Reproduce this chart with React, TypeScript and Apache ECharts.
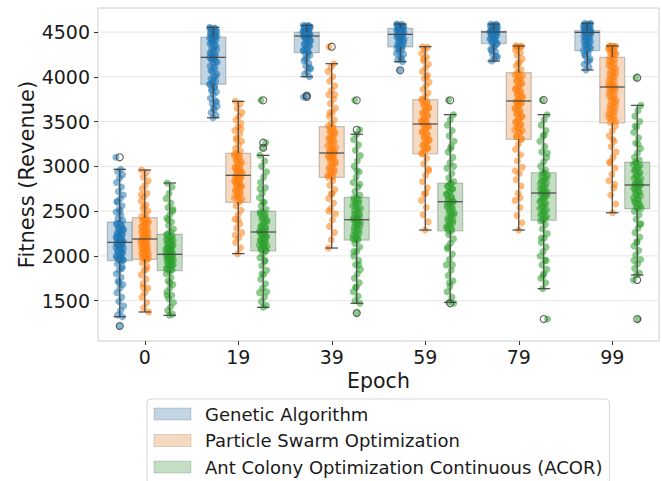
import React, { useEffect, useRef } from 'react';
import * as echarts from 'echarts';

const epochs = ['0', '19', '39', '59', '79', '99'];
const algorithms = [
  'Genetic Algorithm',
  'Particle Swarm Optimization',
  'Ant Colony Optimization Continuous (ACOR)',
];
const pointColors = ['#1f77b4', '#ff7f0e', '#2ca02c'];
const boxFills = ['#c1d5e3', '#f6d9c0', '#c4dec4'];
const yTicks = [1500, 2000, 2500, 3000, 3500, 4000, 4500];

// [lower whisker, Q1, median, Q3, upper whisker] per epoch
const gaBoxes = [
  [1321, 1947, 2152, 2378, 2967],
  [3543, 3916, 4217, 4444, 4552],
  [4001, 4269, 4455, 4496, 4575],
  [4169, 4333, 4474, 4541, 4589],
  [4176, 4369, 4500, 4511, 4589],
  [4076, 4291, 4496, 4515, 4597],
];
const psoBoxes = [
  [1374, 1962, 2189, 2427, 2959],
  [2025, 2598, 2900, 3145, 3726],
  [2088, 2878, 3149, 3443, 4146],
  [2289, 3138, 3473, 3744, 4336],
  [2289, 3302, 3730, 4046, 4344],
  [2482, 3484, 3886, 4217, 4344],
];
const acoBoxes = [
  [1337, 1835, 2018, 2241, 2814],
  [1426, 2055, 2267, 2498, 3123],
  [1471, 2177, 2404, 2654, 3358],
  [1482, 2278, 2605, 2814, 3577],
  [1634, 2397, 2702, 2929, 3577],
  [1787, 2527, 2792, 3048, 3681],
];

// outliers: [epoch index, value]
const gaOutliers = [[0, 3101], [0, 1217], [2, 3790], [2, 3774], [3, 4072]];
const psoOutliers = [[2, 4336]];
const acoOutliers = [
  [1, 3737], [1, 3264], [1, 3208],
  [2, 3737], [2, 3409], [2, 1362],
  [3, 3737], [3, 1471],
  [4, 3741], [4, 1295],
  [5, 3990], [5, 1731], [5, 1295],
];

// individual fitness values per epoch
const gaPoints = [
  [3101, 2967, 2940, 2905, 2870, 2820, 2770, 2720, 2680, 2640, 2600, 2560, 2520, 2490, 2450, 2420, 2395, 2370, 2350, 2330, 2310, 2290, 2270, 2250, 2235, 2220, 2200, 2185, 2170, 2160, 2152, 2140, 2125, 2110, 2095, 2080, 2060, 2040, 2020, 2000, 1985, 1970, 1955, 1940, 1910, 1880, 1840, 1800, 1760, 1720, 1680, 1640, 1590, 1540, 1490, 1440, 1390, 1340, 1321, 1217,
    2365, 2340, 2315, 2295, 2275, 2255, 2240, 2228, 2212, 2195, 2178, 2166, 2148, 2133, 2118, 2102, 2088, 2070, 2052, 2033, 2012, 1992, 1978, 1962, 1950, 2500, 2610, 1860, 1700],
  [4552, 4545, 4530, 4520, 4505, 4490, 4475, 4460, 4450, 4440, 4425, 4410, 4390, 4370, 4350, 4320, 4300, 4280, 4260, 4240, 4225, 4217, 4205, 4190, 4170, 4150, 4120, 4090, 4060, 4030, 4000, 3980, 3950, 3930, 3915, 3890, 3860, 3830, 3800, 3760, 3730, 3700, 3670, 3630, 3600, 3570, 3543,
    4540, 4535, 4515, 4498, 4480, 4468, 4455, 4445, 4432, 4400, 4380, 4340, 4310, 4270, 4230, 4200, 4160, 4110, 4070, 4010, 3960, 3920, 3880, 3840, 3720, 3650],
  [4575, 4570, 4560, 4550, 4540, 4530, 4520, 4510, 4500, 4495, 4485, 4475, 4465, 4455, 4445, 4430, 4410, 4390, 4370, 4350, 4330, 4300, 4280, 4265, 4240, 4210, 4180, 4150, 4120, 4090, 4060, 4030, 4001, 3790, 3774,
    4572, 4565, 4555, 4545, 4535, 4525, 4515, 4505, 4490, 4480, 4470, 4460, 4450, 4440, 4420, 4400, 4380, 4360, 4340, 4310, 4290, 4270, 4200, 4100],
  [4589, 4585, 4575, 4565, 4555, 4545, 4535, 4525, 4515, 4505, 4495, 4485, 4474, 4465, 4450, 4435, 4420, 4400, 4380, 4360, 4340, 4320, 4300, 4280, 4250, 4220, 4190, 4169, 4072,
    4580, 4570, 4560, 4550, 4540, 4530, 4520, 4510, 4500, 4490, 4480, 4470, 4460, 4445, 4430, 4410, 4390, 4370, 4350, 4335, 4310, 4260, 4200],
  [4589, 4580, 4570, 4560, 4550, 4540, 4530, 4520, 4510, 4505, 4500, 4495, 4485, 4470, 4455, 4440, 4420, 4400, 4380, 4365, 4340, 4310, 4280, 4250, 4220, 4195, 4176,
    4585, 4575, 4565, 4555, 4545, 4535, 4525, 4515, 4508, 4502, 4498, 4490, 4480, 4465, 4450, 4430, 4410, 4390, 4375, 4330, 4290, 4230],
  [4597, 4590, 4580, 4570, 4560, 4550, 4540, 4530, 4520, 4512, 4505, 4500, 4496, 4490, 4480, 4465, 4450, 4430, 4410, 4390, 4370, 4350, 4330, 4310, 4290, 4260, 4230, 4200, 4170, 4140, 4110, 4076,
    4595, 4585, 4575, 4565, 4555, 4545, 4535, 4525, 4515, 4508, 4502, 4498, 4494, 4485, 4470, 4455, 4440, 4420, 4400, 4380, 4355, 4320, 4295, 4250, 4180],
];
const psoPoints = [
  [2959, 2930, 2880, 2840, 2790, 2750, 2700, 2660, 2610, 2570, 2530, 2500, 2470, 2440, 2420, 2400, 2380, 2355, 2335, 2310, 2290, 2270, 2250, 2230, 2210, 2195, 2180, 2165, 2150, 2130, 2110, 2090, 2070, 2050, 2030, 2010, 1990, 1970, 1950, 1920, 1880, 1840, 1790, 1740, 1690, 1640, 1590, 1540, 1480, 1420, 1374,
    2415, 2392, 2370, 2345, 2322, 2300, 2280, 2262, 2240, 2220, 2203, 2188, 2172, 2158, 2140, 2120, 2100, 2080, 2060, 2040, 2020, 2000, 1982, 1966, 2550, 2680, 1850, 1650],
  [3726, 3700, 3650, 3600, 3560, 3520, 3480, 3440, 3400, 3360, 3320, 3280, 3240, 3200, 3170, 3145, 3120, 3090, 3060, 3030, 3000, 2980, 2960, 2940, 2920, 2900, 2885, 2870, 2850, 2830, 2810, 2790, 2770, 2750, 2720, 2690, 2660, 2630, 2600, 2560, 2510, 2460, 2410, 2360, 2310, 2260, 2200, 2150, 2090, 2025,
    3140, 3110, 3080, 3050, 3020, 2990, 2970, 2950, 2930, 2910, 2895, 2878, 2860, 2840, 2820, 2800, 2780, 2760, 2740, 2710, 2680, 2650, 2620, 3300, 3420, 2400, 2230],
  [4336, 4146, 4110, 4060, 4000, 3950, 3900, 3850, 3800, 3750, 3700, 3650, 3600, 3560, 3520, 3480, 3450, 3420, 3390, 3360, 3330, 3300, 3270, 3240, 3210, 3180, 3160, 3149, 3130, 3110, 3090, 3060, 3030, 3000, 2970, 2940, 2910, 2880, 2840, 2790, 2740, 2690, 2640, 2590, 2530, 2470, 2400, 2330, 2260, 2180, 2088,
    3440, 3410, 3380, 3350, 3320, 3290, 3260, 3230, 3200, 3170, 3155, 3140, 3120, 3100, 3080, 3050, 3020, 2990, 2960, 2930, 2900, 2885, 3600, 3800, 2700, 2500],
  [4336, 4330, 4300, 4260, 4220, 4180, 4140, 4100, 4060, 4020, 3980, 3940, 3900, 3860, 3820, 3780, 3750, 3720, 3690, 3660, 3630, 3600, 3570, 3540, 3510, 3490, 3473, 3450, 3420, 3390, 3360, 3330, 3300, 3270, 3240, 3210, 3180, 3140, 3090, 3030, 2970, 2900, 2830, 2760, 2690, 2620, 2540, 2460, 2380, 2289,
    3740, 3710, 3680, 3650, 3620, 3590, 3560, 3530, 3500, 3480, 3460, 3440, 3410, 3380, 3350, 3320, 3290, 3260, 3230, 3200, 3170, 3145, 4000, 4200, 2950, 2700],
  [4344, 4340, 4330, 4300, 4270, 4240, 4200, 4160, 4120, 4080, 4050, 4020, 3990, 3960, 3930, 3900, 3870, 3840, 3810, 3780, 3750, 3730, 3710, 3680, 3650, 3620, 3590, 3560, 3530, 3500, 3470, 3440, 3410, 3380, 3340, 3300, 3250, 3190, 3130, 3060, 2990, 2920, 2850, 2780, 2700, 2620, 2540, 2450, 2370, 2289,
    4340, 4335, 4040, 4010, 3980, 3950, 3920, 3890, 3860, 3830, 3800, 3770, 3740, 3720, 3700, 3670, 3640, 3610, 3580, 3550, 3520, 3490, 3460, 3430, 3400, 3370, 3330, 3310, 4150, 2950, 2650],
  [4344, 4340, 4335, 4320, 4300, 4280, 4260, 4240, 4215, 4190, 4160, 4130, 4100, 4070, 4040, 4010, 3980, 3950, 3920, 3900, 3886, 3870, 3850, 3820, 3790, 3760, 3730, 3700, 3670, 3640, 3610, 3580, 3550, 3520, 3490, 3450, 3400, 3340, 3280, 3220, 3160, 3100, 3040, 2980, 2910, 2840, 2760, 2680, 2580, 2482,
    4342, 4338, 4330, 4310, 4290, 4270, 4250, 4210, 4180, 4150, 4120, 4090, 4060, 4030, 4000, 3970, 3940, 3910, 3890, 3880, 3860, 3830, 3800, 3770, 3740, 3710, 3680, 3650, 3620, 3590, 3560, 3530, 3500, 3300, 3050, 2800],
];
const acoPoints = [
  [2814, 2770, 2700, 2640, 2590, 2540, 2500, 2460, 2420, 2380, 2340, 2300, 2270, 2245, 2225, 2200, 2180, 2160, 2140, 2120, 2100, 2085, 2070, 2050, 2035, 2020, 2005, 1990, 1975, 1960, 1945, 1925, 1905, 1885, 1865, 1845, 1830, 1800, 1760, 1720, 1680, 1640, 1600, 1560, 1520, 1480, 1430, 1390, 1350, 1337,
    2235, 2215, 2192, 2172, 2152, 2132, 2112, 2094, 2078, 2062, 2044, 2028, 2012, 1998, 1982, 1968, 1952, 1936, 1918, 1898, 1878, 1858, 1840, 2400, 2520, 1700, 1560],
  [3737, 3264, 3208, 3123, 3060, 3000, 2940, 2880, 2820, 2760, 2700, 2650, 2600, 2560, 2520, 2495, 2470, 2440, 2410, 2380, 2350, 2320, 2300, 2280, 2267, 2250, 2230, 2210, 2190, 2170, 2150, 2130, 2110, 2090, 2070, 2055, 2020, 1980, 1940, 1890, 1840, 1790, 1740, 1690, 1640, 1590, 1540, 1490, 1450, 1426,
    2490, 2460, 2430, 2400, 2370, 2340, 2315, 2290, 2275, 2258, 2240, 2220, 2200, 2180, 2160, 2140, 2120, 2100, 2080, 2062, 2600, 2750, 1950, 1800, 1600],
  [3737, 3409, 3358, 3300, 3240, 3180, 3120, 3060, 3000, 2940, 2880, 2820, 2770, 2720, 2680, 2650, 2620, 2590, 2560, 2530, 2500, 2470, 2440, 2420, 2404, 2385, 2360, 2340, 2310, 2280, 2250, 2220, 2190, 2175, 2140, 2100, 2050, 2000, 1950, 1900, 1850, 1800, 1750, 1700, 1650, 1600, 1550, 1500, 1471, 1362,
    2650, 2620, 2590, 2560, 2530, 2500, 2470, 2445, 2425, 2410, 2395, 2375, 2350, 2320, 2290, 2260, 2230, 2200, 2185, 2800, 2950, 2050, 1900, 1650],
  [3737, 3577, 3520, 3460, 3400, 3340, 3280, 3220, 3160, 3100, 3040, 2980, 2920, 2870, 2830, 2810, 2780, 2750, 2720, 2690, 2660, 2630, 2605, 2580, 2550, 2520, 2490, 2460, 2430, 2400, 2370, 2340, 2310, 2280, 2240, 2190, 2140, 2080, 2020, 1960, 1900, 1840, 1780, 1720, 1660, 1600, 1540, 1482, 1471,
    2805, 2775, 2745, 2715, 2685, 2655, 2625, 2610, 2595, 2575, 2545, 2515, 2485, 2455, 2425, 2395, 2365, 2335, 2305, 2285, 3000, 3200, 2100, 1900, 1700],
  [3741, 3577, 3520, 3460, 3400, 3340, 3280, 3220, 3160, 3100, 3050, 3000, 2960, 2930, 2900, 2870, 2840, 2810, 2780, 2750, 2720, 2702, 2680, 2650, 2620, 2590, 2560, 2530, 2500, 2470, 2440, 2410, 2390, 2350, 2300, 2250, 2200, 2150, 2100, 2050, 2000, 1950, 1900, 1850, 1800, 1750, 1700, 1634, 1295,
    2925, 2895, 2865, 2835, 2805, 2775, 2745, 2715, 2705, 2690, 2665, 2635, 2605, 2575, 2545, 2515, 2485, 2455, 2425, 2400, 3150, 3350, 2200, 1950, 1780],
  [3990, 3681, 3620, 3560, 3500, 3440, 3380, 3320, 3260, 3200, 3150, 3100, 3070, 3045, 3020, 2990, 2960, 2930, 2900, 2870, 2840, 2810, 2792, 2770, 2740, 2710, 2680, 2650, 2620, 2590, 2560, 2530, 2500, 2460, 2410, 2360, 2310, 2260, 2210, 2160, 2110, 2060, 2010, 1960, 1910, 1860, 1810, 1787, 1731, 1295,
    3040, 3010, 2980, 2950, 2920, 2890, 2860, 2830, 2800, 2795, 2785, 2760, 2730, 2700, 2670, 2640, 2610, 2580, 2550, 2530, 3250, 3450, 2350, 2150, 1950],
];

const FONT = 'DejaVu Sans';
const TEXT = '#1a1a1a';
const LINE = '#454545';
const BOX_W = 0.267;
const OFFSETS = [-0.267, 0, 0.267];
const JITTER = 0.042;

function jitter(k: number) {
  return (((k * 0.6180339887) % 1) - 0.5) * 2 * JITTER;
}

export default function App() {
  const ref = useRef<HTMLDivElement>(null);
  useEffect(() => {
    if (!ref.current) return;
    const chart = echarts.init(ref.current, undefined, { renderer: 'svg' });
    const allBoxes = [gaBoxes, psoBoxes, acoBoxes];
    const allOutliers = [gaOutliers, psoOutliers, acoOutliers];
    const allPoints = [gaPoints, psoPoints, acoPoints];

    const series: any[] = [];
    // horizontal grid lines at the y ticks
    series.push({
      type: 'custom',
      name: 'gridlines',
      xAxisIndex: 1,
      yAxisIndex: 0,
      z: 0,
      silent: true,
      encode: { y: 0 },
      data: yTicks.map((t) => [t]),
      renderItem: (params: any, api: any) => {
        const v = api.value(0);
        const p0 = api.coord([-0.5, v]);
        const p1 = api.coord([5.5, v]);
        return {
          type: 'line',
          shape: { x1: p0[0], y1: p0[1], x2: p1[0], y2: p1[1] },
          style: { stroke: '#e6e6e6', lineWidth: 1 },
        };
      },
    });
    allBoxes.forEach((boxes, a) => {
      series.push({
        type: 'custom',
        name: algorithms[a],
        xAxisIndex: 1,
        yAxisIndex: 0,
        z: 1,
        itemStyle: { color: boxFills[a] },
        encode: { x: 0, y: [1, 2, 3, 4, 5] },
        data: boxes.map((b, i) => [i + OFFSETS[a], ...b]),
        renderItem: (params: any, api: any) => {
          const x = api.value(0);
          const q1 = api.coord([x, api.value(2)]);
          const q3 = api.coord([x, api.value(4)]);
          const w = api.size([BOX_W, 0])[0];
          return {
            type: 'rect',
            shape: { x: q1[0] - w / 2, y: q3[1], width: w, height: q1[1] - q3[1] },
            style: { fill: boxFills[a], stroke: 'rgba(60,60,60,0.28)', lineWidth: 1.2 },
          };
        },
      });
    });
    allPoints.forEach((groups, a) => {
      const data: number[][] = [];
      groups.forEach((vals, e) => {
        vals.forEach((v, k) => data.push([e + OFFSETS[a] + jitter(k + e * 13 + a * 5), v]));
      });
      series.push({
        type: 'scatter',
        name: 'points-' + a,
        xAxisIndex: 1,
        yAxisIndex: 0,
        z: 2,
        symbol: 'circle',
        symbolSize: 7,
        itemStyle: { color: pointColors[a], opacity: 0.55 },
        data,
      });
    });
    allBoxes.forEach((boxes, a) => {
      series.push({
        type: 'custom',
        name: 'lines-' + a,
        xAxisIndex: 1,
        yAxisIndex: 0,
        z: 3,
        encode: { x: 0, y: [1, 2, 3, 4, 5] },
        data: boxes.map((b, i) => [i + OFFSETS[a], ...b]),
        renderItem: (params: any, api: any) => {
          const x = api.value(0);
          const pts = [1, 2, 3, 4, 5].map((d) => api.coord([x, api.value(d)]));
          const [lo, q1, med, q3, hi] = pts;
          const w = api.size([BOX_W, 0])[0];
          const cx = lo[0];
          const style = { stroke: LINE, lineWidth: 1.2 };
          return {
            type: 'group',
            children: [
              { type: 'line', shape: { x1: cx, y1: q3[1], x2: cx, y2: hi[1] }, style },
              { type: 'line', shape: { x1: cx, y1: q1[1], x2: cx, y2: lo[1] }, style },
              { type: 'line', shape: { x1: cx - w / 4, y1: hi[1], x2: cx + w / 4, y2: hi[1] }, style },
              { type: 'line', shape: { x1: cx - w / 4, y1: lo[1], x2: cx + w / 4, y2: lo[1] }, style },
              { type: 'line', shape: { x1: cx - w / 2, y1: med[1], x2: cx + w / 2, y2: med[1] }, style },
            ],
          };
        },
      });
    });
    allOutliers.forEach((outs, a) => {
      series.push({
        type: 'scatter',
        name: 'outliers-' + a,
        xAxisIndex: 1,
        yAxisIndex: 0,
        z: 4,
        symbol: 'circle',
        symbolSize: 7,
        itemStyle: { color: 'rgba(0,0,0,0)', borderColor: '#3a3a3a', borderWidth: 1.1 },
        data: outs.map(([e, v]) => [e + OFFSETS[a], v]),
      });
    });

    chart.setOption({
      animation: false,
      textStyle: { fontFamily: FONT },
      grid: {
        left: 98,
        top: 8,
        width: 561,
        height: 333,
        show: true,
        borderColor: '#cccccc',
        borderWidth: 1,
        backgroundColor: 'transparent',
      },
      legend: {
        orient: 'vertical',
        left: 147,
        top: 399,
        height: 74,
        itemWidth: 37,
        itemHeight: 12,
        itemGap: 8.5,
        padding: [6, 7, 8, 6.5],
        borderColor: '#d6d6d6',
        borderWidth: 1,
        borderRadius: 4,
        icon: 'rect',
        selectedMode: false,
        textStyle: {
          fontFamily: FONT,
          fontSize: 18,
          lineHeight: 18,
          color: TEXT,
          padding: [0, 0, 0, 9],
        },
        data: algorithms.map((n, i) => ({
          name: n,
          itemStyle: { color: boxFills[i], borderColor: 'rgba(60,60,60,0.18)', borderWidth: 1 },
        })),
      },
      xAxis: [
        {
          type: 'category',
          data: epochs,
          boundaryGap: true,
          axisLine: { show: false, onZero: false },
          axisTick: { show: true, alignWithLabel: true, length: 4, lineStyle: { color: '#333' } },
          axisLabel: { fontSize: 19, color: TEXT, margin: 6, fontFamily: FONT },
          splitLine: { show: false },
          name: 'Epoch',
          nameLocation: 'middle',
          nameGap: 28,
          nameTextStyle: { fontSize: 20.5, color: TEXT, fontFamily: FONT },
        },
        {
          type: 'value',
          show: false,
          min: -0.5,
          max: 5.5,
          axisLine: { onZero: false },
          splitLine: { show: false },
        },
      ],
      yAxis: {
        type: 'value',
        min: 1050,
        max: 4768,
        axisLine: { show: false, onZero: false },
        axisTick: { show: true, length: 4, customValues: yTicks, lineStyle: { color: '#333' } },
        axisLabel: {
          fontSize: 19,
          color: TEXT,
          margin: 8,
          customValues: yTicks,
          fontFamily: FONT,
          formatter: (v: number) => String(v),
        },
        splitLine: { show: false },
        name: 'Fitness (Revenue)',
        nameLocation: 'middle',
        nameRotate: 90,
        nameGap: 61,
        nameMoveOverlap: false,
        nameTextStyle: { fontSize: 21, color: TEXT, fontFamily: FONT },
      },
      series,
    });
    return () => chart.dispose();
  }, []);
  return (
    <div
      ref={ref}
      style={{ position: 'fixed', left: 0, top: 0, width: 662, height: 481, background: '#fff' }}
    />
  );
}
